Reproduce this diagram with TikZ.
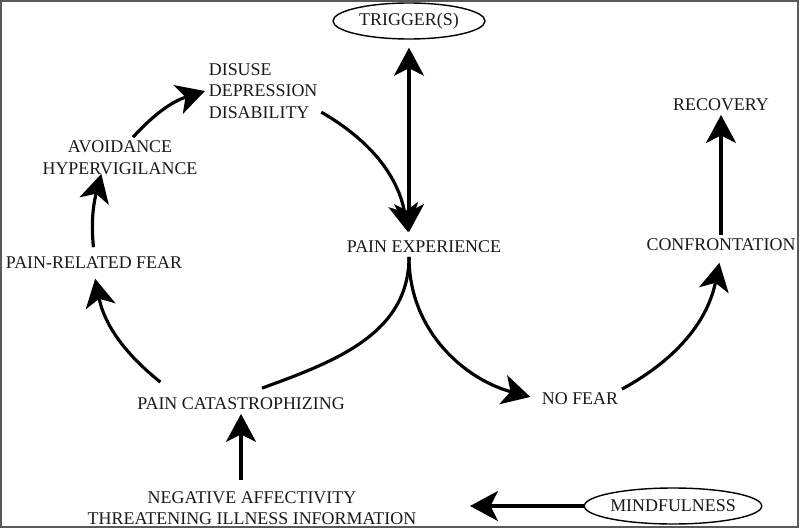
\documentclass[tikz,border=0pt]{standalone}
\usepackage{fontspec}
\setmainfont{Liberation Serif}
\usetikzlibrary{shapes.geometric,arrows.meta,calc}

\tikzset{
  >={Stealth[length=0.56cm,width=0.6cm,inset=0.15cm]},
  lbl/.style={font=\fontsize{10.2}{12.3}\selectfont,text=black!90,inner sep=2pt},
  oval/.style={lbl,ellipse,draw,thick,inner sep=0pt,minimum height=0.72cm},
  line/.style={line width=1.8pt},
  arr/.style={->,line width=1.8pt},
}

\begin{document}
\begin{tikzpicture}[x=0.02cm,y=0.02cm]
   \useasboundingbox (0,0) rectangle (800,531);
   \draw[black!65,line width=1.2pt] (1,4) rectangle (798,530);

   % nodes
   \node (trig)   at (409,510) [oval,minimum width=3.04cm] {TRIGGER(S)};
   \node (exper)  at (424,284) [lbl] {PAIN EXPERIENCE};
   \node (disuse) at (205,440) [lbl,anchor=west,align=left] {DISUSE\\DEPRESSION\\DISABILITY};
   \node (avoid)  at (120,373) [lbl,align=center] {AVOIDANCE\\HYPERVIGILANCE};
   \node (fear)   at (94,268)  [lbl] {PAIN-RELATED FEAR};
   \node (catas)  at (241,127) [lbl] {PAIN CATASTROPHIZING};
   \node (negaff) at (252,23)  [lbl,align=center] {NEGATIVE AFFECTIVITY\\THREATENING ILLNESS INFORMATION};
   \node (nofear) at (580,132) [lbl] {NO FEAR};
   \node (confr)  at (721,286) [lbl] {CONFRONTATION};
   \node (recov)  at (721,426) [lbl] {RECOVERY};
   \node (mind)   at (673,25)  [oval,minimum width=3.38cm] {MINDFULNESS};

   \coordinate (fork) at (trig.south |- exper.south);
   \coordinate (mindtip) at (470,25);

   % connectors
   \draw[<->,line,shorten <=0.16cm,shorten >=0.1cm] (trig.south) -- (trig.south |- exper.north);
   \draw[arr,shorten >=0.1cm] (disuse.-20) to[bend left=25] (trig.south |- exper.north);
   \draw[line] (fork) to[out=-90,in=20] ($(catas.north)+(21,6)$);
   \draw[arr,shorten >=0.16cm] (fork) to[out=-90,in=165] (nofear.west);
   \draw[arr,shorten >=0.16cm] (nofear.north east) to[bend right=25] (confr.south);
   \draw[arr] (confr.north) -- (recov.south);
   \draw[arr,shorten >=0.12cm] ($(catas.north west)+(27,12)$) to[bend left=20] (fear.south);
   \draw[arr,shorten <=0.12cm,shorten >=-0.1cm] (fear.north) to[bend left=10] ([xshift=-0.4cm]avoid.south);
   \draw[arr] ([xshift=0.26cm]avoid.north) to[bend left=15] (disuse.west);
   \draw[arr,shorten <=0.14cm] (catas.south |- negaff.north) -- (catas.south);
   \draw[arr] (mind.west) -- (mindtip);
\end{tikzpicture}
\end{document}
